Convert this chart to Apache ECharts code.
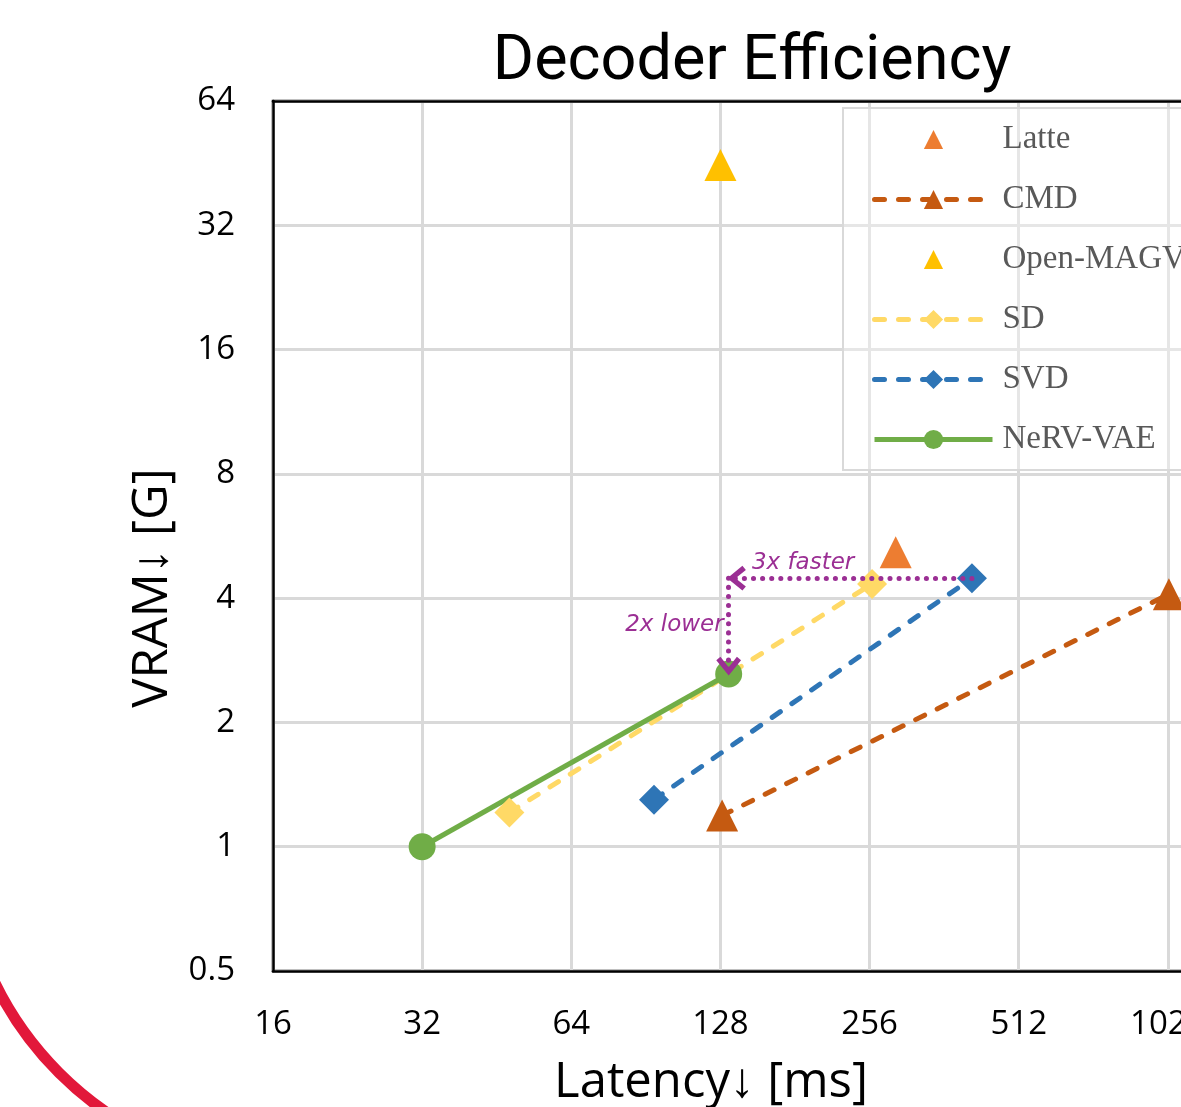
<!DOCTYPE html>
<html>
<head>
<meta charset="utf-8">
<title>Decoder Efficiency</title>
<script src="https://cdn.jsdelivr.net/npm/echarts@6/dist/echarts.min.js"></script>
<style>
  html, body { margin: 0; padding: 0; background: #fff; }
  #chart { width: 1181px; height: 1107px; }
</style>
</head>
<body>
<div id="chart"></div>
<script>
  // latency [ms] and VRAM [G] of each decoder
  var latteLatency = [289]
  var latteVram = [5.17]
  var cmdLatency = [129, 1029]
  var cmdVram = [1.19, 4.09]
  var magvitLatency = [128]
  var magvitVram = [44.8]
  var sdLatency = [48, 259]
  var sdVram = [1.21, 4.33]
  var svdLatency = [94, 412]
  var svdVram = [1.30, 4.47]
  var nervLatency = [32, 133]
  var nervVram = [1.0, 2.62]

  // axis range (powers of two)
  var xTicks = [16, 32, 64, 128, 256, 512, 1024, 2048]
  var yTicks = [0.5, 1, 2, 4, 8, 16, 32, 64]

  // where the two annotation texts sit, in data units
  var fasterTextAt = [188, 4.47]
  var lowerTextAt = [133, 3.44]

  function pairs(xs, ys) {
    return xs.map(function(x, i) { return [x, ys[i]] })
  }

  var purple = '#9B2F94'
  // open chevron, tip in the middle of a 32x32 box so it ends right on the point
  var chevron = 'path://M0,0 L0.01,0 L0,0.01 Z M32,32 L31.99,32 L32,31.99 Z ' +
    'M16,15 L25,26 L22,28.5 L16,21 L10,28.5 L7,26 Z'
  var dash = [10, 14]

  var chart = echarts.init(document.getElementById('chart'))

  var option = {
    backgroundColor: '#fff',
    animation: false,
    title: {
      text: 'Decoder Efficiency',
      left: 747,
      top: 27,
      textAlign: 'center',
      textStyle: { fontFamily: 'Roboto', fontSize: 63, fontWeight: 'normal', color: '#000' }
    },
    grid: {
      left: 273, top: 101, width: 1044, height: 870,
      outerBoundsMode: 'none',
      containLabel: false,
      show: true, borderColor: '#000', borderWidth: 2.5, backgroundColor: 'transparent'
    },
    legend: {
      orient: 'vertical',
      left: 843,
      top: 108,
      padding: [15, 300, 14, 29],
      itemWidth: 118,
      itemHeight: 24,
      itemGap: 27,
      backgroundColor: 'rgba(255,255,255,0.35)',
      borderColor: '#d9d9d9',
      borderWidth: 2,
      textStyle: { fontFamily: 'Liberation Serif', fontSize: 33, color: '#595959', padding: [0, 0, 0, 5] },
      data: [
        { name: 'Latte' },
        { name: 'CMD', lineStyle: { width: 5, type: dash, cap: 'round' } },
        { name: 'Open-MAGVIT2' },
        { name: 'SD', lineStyle: { width: 5, type: dash, cap: 'round' } },
        { name: 'SVD', lineStyle: { width: 5, type: dash, cap: 'round' } },
        { name: 'NeRV-VAE', lineStyle: { width: 5, type: 'solid' } }
      ]
    },
    xAxis: [{
      type: 'log',
      logBase: 2,
      min: xTicks[0],
      max: xTicks[xTicks.length - 1],
      splitNumber: xTicks.length - 1,
      name: 'Latency\u2193 [ms]',
      nameLocation: 'middle',
      nameGap: 88,
      nameTextStyle: { fontFamily: 'Open Sans', fontSize: 49, color: '#000', padding: [0, 168, 0, 0] },
      axisLine: { show: true, lineStyle: { color: '#000', width: 2.5 } },
      axisTick: { show: false },
      axisLabel: {
        margin: 37,
        fontFamily: 'Open Sans', fontSize: 33, color: '#000',
        formatter: function(v) { return String(Math.round(v * 100) / 100) }
      },
      splitLine: { show: true, lineStyle: { color: '#d9d9d9', width: 3 } }
    }, {
      type: 'log',
      logBase: 2,
      min: xTicks[0],
      max: xTicks[xTicks.length - 1],
      position: 'top',
      axisLine: { show: true, lineStyle: { color: '#000', width: 2.5 } },
      axisTick: { show: false },
      axisLabel: { show: false },
      splitLine: { show: false }
    }],
    yAxis: {
      type: 'log',
      logBase: 2,
      min: yTicks[0],
      max: yTicks[yTicks.length - 1],
      splitNumber: yTicks.length - 1,
      name: 'VRAM\u2193 [G]',
      nameLocation: 'middle',
      nameGap: 82,
      nameTextStyle: { fontFamily: 'Open Sans', fontSize: 49, color: '#000', padding: [0, 104, 0, 0] },
      axisLine: { show: true, lineStyle: { color: '#000', width: 2.5 } },
      axisTick: { show: false },
      axisLabel: {
        margin: 38,
        fontFamily: 'Open Sans', fontSize: 33, color: '#000',
        formatter: function(v) { return String(Math.round(v * 100) / 100) }
      },
      splitLine: { show: true, lineStyle: { color: '#d9d9d9', width: 3 } }
    },
    graphic: [{
      // red highlight ring from the surrounding figure
      type: 'arc',
      silent: true,
      shape: { cx: 296, cy: 836, r: 335, startAngle: Math.PI / 2, endAngle: Math.PI },
      style: { stroke: '#E2183A', lineWidth: 11, fill: 'none' }
    }],
    series: [{
      name: 'Latte',
      type: 'line',
      symbol: 'triangle',
      symbolSize: 32,
      itemStyle: { color: '#ED7D31' },
      lineStyle: { opacity: 0 },
      data: pairs(latteLatency, latteVram)
    }, {
      name: 'CMD',
      type: 'line',
      symbol: 'triangle',
      symbolSize: 32,
      itemStyle: { color: '#C55A11' },
      lineStyle: { color: '#C55A11', width: 5, type: dash, cap: 'round' },
      data: pairs(cmdLatency, cmdVram)
    }, {
      name: 'Open-MAGVIT2',
      type: 'line',
      symbol: 'triangle',
      symbolSize: 32,
      itemStyle: { color: '#FFC000' },
      lineStyle: { opacity: 0 },
      data: pairs(magvitLatency, magvitVram)
    }, {
      name: 'SD',
      type: 'line',
      symbol: 'diamond',
      symbolSize: 30,
      itemStyle: { color: '#FFD966' },
      lineStyle: { color: '#FFD966', width: 5, type: dash, cap: 'round' },
      data: pairs(sdLatency, sdVram)
    }, {
      name: 'SVD',
      type: 'line',
      symbol: 'diamond',
      symbolSize: 30,
      itemStyle: { color: '#2E75B6' },
      lineStyle: { color: '#2E75B6', width: 5, type: dash, cap: 'round' },
      data: pairs(svdLatency, svdVram),
      markLine: {
        silent: true,
        symbol: ['none', chevron],
        symbolSize: 44,
        label: { show: false },
        lineStyle: { color: purple, type: [0.1, 9], width: 5, cap: 'round' },
        emphasis: { disabled: true },
        data: [
          [{ coord: [svdLatency[1], svdVram[1]] }, { coord: [nervLatency[1], svdVram[1]] }],
          [{ coord: [nervLatency[1], svdVram[1]] }, { coord: [nervLatency[1], nervVram[1]] }]
        ]
      }
    }, {
      name: 'NeRV-VAE',
      type: 'line',
      symbol: 'circle',
      symbolSize: 27,
      itemStyle: { color: '#70AD47' },
      lineStyle: { color: '#70AD47', width: 5 },
      data: pairs(nervLatency, nervVram),
      markPoint: {
        silent: true,
        symbol: 'circle',
        symbolSize: 0,
        itemStyle: { color: 'transparent' },
        label: {
          show: true, color: purple, fontStyle: 'italic',
          fontFamily: 'DejaVu Sans', fontSize: 23
        },
        data: [
          { coord: fasterTextAt, label: { position: 'top', distance: 4, formatter: '3x faster' } },
          { coord: lowerTextAt, label: { position: 'left', distance: 5, formatter: '2x lower' } }
        ]
      }
    }]
  }

  chart.setOption(option)
</script>
</body>
</html>
